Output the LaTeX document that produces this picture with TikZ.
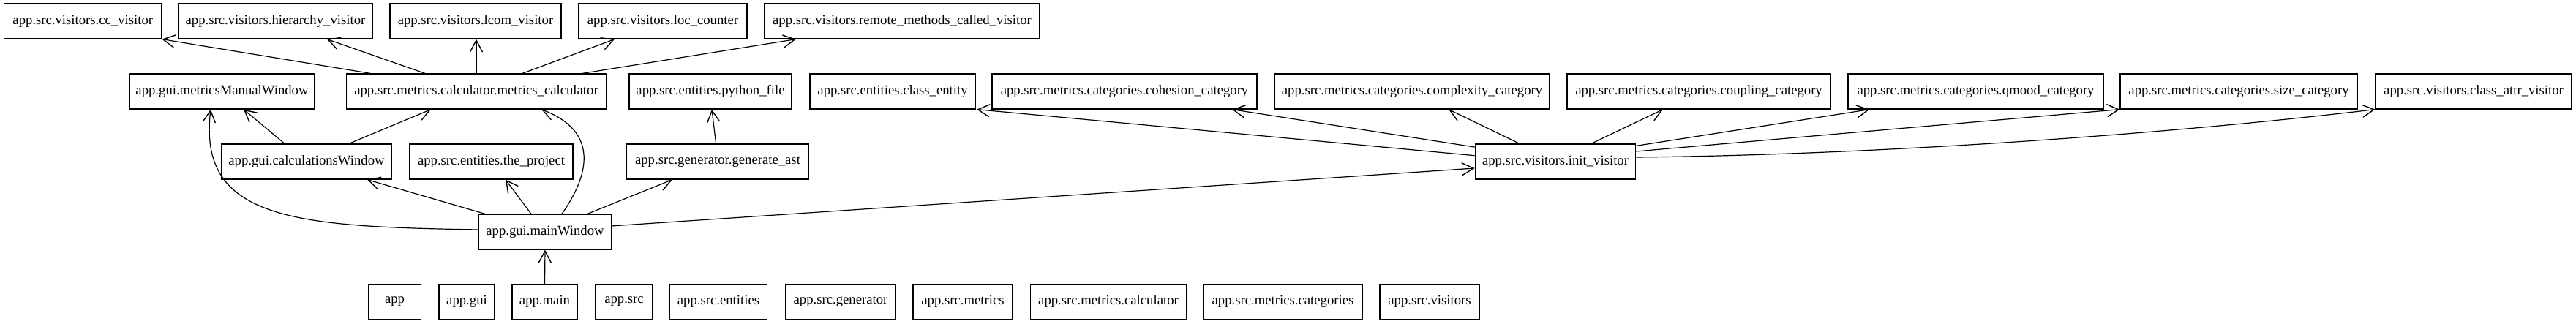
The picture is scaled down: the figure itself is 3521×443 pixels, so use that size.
\documentclass[tikz,border=0pt]{standalone}
\usepackage{fontspec}
\setmainfont{Liberation Serif}
\usetikzlibrary{arrows.meta,calc}
\begin{document}
\begin{tikzpicture}[x=0.5pt,y=-0.5pt,
  box/.style={draw, line width=0.6pt, inner sep=0pt, minimum height=24pt, font=\fontsize{9.35pt}{11pt}\selectfont},
  edge/.style={line width=0.6pt, -{Straight Barb[length=8pt,width=8.5pt,line width=0.7pt]}}]
\useasboundingbox (0,0) rectangle (3521,443);
% row 1
\node[box, minimum width=107.5pt] (cc) at (113.3,29) {app.src.visitors.cc\_visitor};
\node[box, minimum width=132.5pt] (hv) at (376.5,29) {app.src.visitors.hierarchy\_visitor};
\node[box, minimum width=117pt] (lcom) at (650,29) {app.src.visitors.lcom\_visitor};
\node[box, minimum width=115pt] (loc) at (906,29) {app.src.visitors.loc\_counter};
\node[box, minimum width=188pt] (rm) at (1233,29) {app.src.visitors.remote\_methods\_called\_visitor};
% row 2
\node[box, minimum width=126.5pt] (mmw) at (303.5,125) {app.gui.metricsManualWindow};
\node[box, minimum width=177.25pt] (mc) at (651,125) {app.src.metrics.calculator.metrics\_calculator};
\node[box, minimum width=111pt] (pf) at (971,125) {app.src.entities.python\_file};
\node[box, minimum width=113pt] (ce) at (1220,125) {app.src.entities.class\_entity};
\node[box, minimum width=181pt] (coh) at (1537,125) {app.src.metrics.categories.cohesion\_category};
\node[box, minimum width=188pt] (cpx) at (1930,125) {app.src.metrics.categories.complexity\_category};
\node[box, minimum width=180pt] (cpl) at (2322,125) {app.src.metrics.categories.coupling\_category};
\node[box, minimum width=174.5pt] (qm) at (2700.5,125) {app.src.metrics.categories.qmood\_category};
\node[box, minimum width=162pt] (sz) at (3060,125) {app.src.metrics.categories.size\_category};
\node[box, minimum width=134pt] (ca) at (3381,125) {app.src.visitors.class\_attr\_visitor};
% row 3
\node[box, minimum width=116pt] (cw) at (419,221) {app.gui.calculationsWindow};
\node[box, minimum width=111.5pt] (tp) at (671.5,221) {app.src.entities.the\_project};
\node[box, minimum width=124.25pt] (ga) at (981,221) {app.src.generator.generate\_ast};
\node[box, minimum width=109.75pt] (iv) at (2126,221) {app.src.visitors.init\_visitor};
% row 4
\node[box, minimum width=90.25pt] (mw) at (745,317) {app.gui.mainWindow};
% row 5
\node[box, minimum width=35.75pt] (app) at (539.5,412.5) {app};
\node[box, minimum width=38pt] (gui) at (638,412.5) {app.gui};
\node[box, minimum width=44.5pt] (main) at (744.5,412.5) {app.main};
\node[box, minimum width=39pt] (src) at (853,412.5) {app.src};
\node[box, minimum width=66.75pt] (ent) at (982,412.5) {app.src.entities};
\node[box, minimum width=75.75pt] (gen) at (1149,412.5) {app.src.generator};
\node[box, minimum width=68pt] (met) at (1316,412.5) {app.src.metrics};
\node[box, minimum width=106.25pt] (calc) at (1515,412.5) {app.src.metrics.calculator};
\node[box, minimum width=108.5pt] (cat) at (1753.5,412.5) {app.src.metrics.categories};
\node[box, minimum width=68pt] (vis) at (1954,412.5) {app.src.visitors};
% edges from metrics_calculator
\draw[edge] ($(mc.north)+(-144.5,0)$) -- (cc.south east);
\draw[edge] ($(mc.north)+(-70,0)$) -- ($(hv.south)+(70.5,0)$);
\draw[edge] (mc.north) -- ($(lcom.south)+(1,0)$);
\draw[edge] ($(mc.north)+(63,0)$) -- ($(loc.south)+(-66,0)$);
\draw[edge] ($(mc.north)+(145,0)$) -- ($(rm.south)+(-145,0)$);
% calculationsWindow
\draw[edge] ($(cw.north)+(-30,0)$) -- ($(mmw.south)+(29.5,0)$);
\draw[edge] ($(cw.north)+(58,0)$) -- ($(mc.south)+(-62,0)$);
% mainWindow
\draw[edge] ($(mw.north)+(-82,0)$) -- ($(cw.south)+(83,0)$);
\draw[edge] ($(mw.north)+(-19,0)$) -- ($(tp.south)+(19.5,0)$);
\draw[edge] ($(mw.north)+(23,0)$) .. controls (805,240) and (820,180) .. ($(mc.south)+(89,0)$);
\draw[edge] ($(mw.west)+(0,-3)$) .. controls (400,310) and (270,300) .. ($(mmw.south)+(-15.5,0)$);
\draw[edge] ($(mw.north)+(58,0)$) -- ($(ga.south)+(-62,0)$);
\draw[edge] ($(mw.east)+(0,-8)$) -- ($(iv.west)+(0,9)$);
\draw[edge] ($(ga.north)+(-2.4,0)$) -- ($(pf.south)+(2,0)$);
\draw[edge] (main.north) -- (mw.south);
% init_visitor
\draw[edge] ($(iv.west)+(0,-8.3)$) -- ($(ce.south east)+(1.5,0)$);
\draw[edge] ($(iv.north west)+(0,4.7)$) -- ($(coh.south)+(147,0)$);
\draw[edge] ($(iv.north)+(-49,0)$) -- ($(cpx.south)+(50,0)$);
\draw[edge] ($(iv.north)+(49,0)$) -- ($(cpl.south)+(-49,0)$);
\draw[edge] ($(iv.north east)+(0,3)$) -- ($(qm.south west)+(30,0)$);
\draw[edge] ($(iv.east)+(0,-14)$) -- (sz.south west);
\draw[edge] ($(iv.east)+(0,-6)$) .. controls (2550,212) and (2950,185) .. (ca.south west);
\end{tikzpicture}
\end{document}
